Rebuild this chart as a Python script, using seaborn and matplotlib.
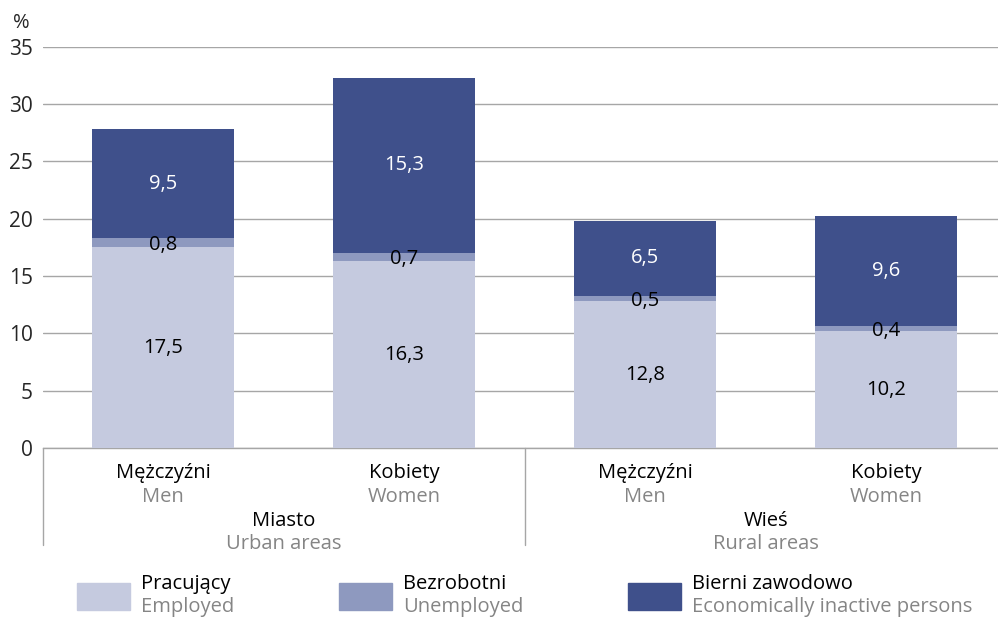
import numpy as np
import pandas as pd
import matplotlib
matplotlib.use("Agg")
import matplotlib.pyplot as plt
import seaborn as sns
from matplotlib.patches import Rectangle
from matplotlib.lines import Line2D

# Data
areas_pl = ["Miasto", "Wieś"]
areas_en = ["Urban areas", "Rural areas"]
sex_pl = ["Mężczyźni", "Kobiety", "Mężczyźni", "Kobiety"]
sex_en = ["Men", "Women", "Men", "Women"]
employed = [17.5, 16.3, 12.8, 10.2]
unemployed = [0.8, 0.7, 0.5, 0.4]
inactive = [9.5, 15.3, 6.5, 9.6]
series_pl = ["Pracujący", "Bezrobotni", "Bierni zawodowo"]
series_en = ["Employed", "Unemployed", "Economically inactive persons"]
colors = ["#c5cadf", "#8e99bf", "#3f508b"]
yticks = [0, 5, 10, 15, 20, 25, 30, 35]

sns.set_style("white")
plt.rcParams["font.family"] = ["Open Sans", "DejaVu Sans"]
FS = 14.5

fig = plt.figure(figsize=(9.98, 6.17), dpi=100)
ax = fig.add_axes([0.0426, 0.274, 0.966, 0.650])

cats = [f"{i}" for i in range(len(employed))]
df = pd.DataFrame({"cat": cats, "emp": employed, "unemp": unemployed, "inact": inactive})
df["b1"] = df["emp"] + df["unemp"]
df["b2"] = df["b1"] + df["inact"]

# stacked bars: draw totals first, then overlay
for col, c in zip(["b2", "b1", "emp"], [colors[2], colors[1], colors[0]]):
    sns.barplot(data=df, x="cat", y=col, color=c, width=0.59, saturation=1,
                linewidth=0, edgecolor="none", ax=ax, zorder=3)

fmt = lambda v: f"{v:.1f}".replace(".", ",")
for i, r in df.iterrows():
    ax.text(i, r["emp"] / 2, fmt(r["emp"]), ha="center", va="center", fontsize=FS, color="black", zorder=5)
    ax.text(i, r["emp"] + r["unemp"] / 2 - 0.2, fmt(r["unemp"]), ha="center", va="center", fontsize=FS, color="black", zorder=5)
    ax.text(i, r["b1"] + r["inact"] / 2, fmt(r["inact"]), ha="center", va="center", fontsize=FS, color="white", zorder=5)

ax.set_xlim(-0.5, 3.5)
ax.set_ylim(0, 35)
ax.set_yticks(yticks)
ax.set_yticklabels([str(t) for t in yticks], fontsize=FS + 0.5)
ax.yaxis.grid(True, color="#a6a6a6", linewidth=1, zorder=0)
ax.set_xticks([])
ax.set_xlabel("")
ax.set_ylabel("")
ax.tick_params(axis="y", length=0, pad=7)
for s in ["top", "right", "left"]:
    ax.spines[s].set_visible(False)
ax.spines["bottom"].set_color("#a6a6a6")
ax.spines["bottom"].set_linewidth(1)
ax.text(-0.022, 1.035, "%", transform=ax.transAxes, ha="center", va="bottom", fontsize=FS)

# category labels
tr = ax.get_xaxis_transform()
for i in range(len(sex_pl)):
    ax.text(i, -0.062, sex_pl[i], transform=tr, ha="center", va="center", fontsize=FS, color="black")
    ax.text(i, -0.122, sex_en[i], transform=tr, ha="center", va="center", fontsize=FS, color="#858585")
for g in range(len(areas_pl)):
    ax.text(2 * g + 0.5, -0.182, areas_pl[g], transform=tr, ha="center", va="center", fontsize=FS, color="black")
    ax.text(2 * g + 0.5, -0.24, areas_en[g], transform=tr, ha="center", va="center", fontsize=FS, color="#858585")
for xs in [-0.5, 1.5, 3.5]:
    ax.add_line(Line2D([xs, xs], [0, -0.243], transform=tr, color="#a6a6a6", linewidth=1, clip_on=False))

# legend
leg_x = [0.077, 0.340, 0.629]
for k in range(3):
    fig.patches.append(Rectangle((leg_x[k], 1 - 610 / 617), 0.053, 27 / 617,
                                 transform=fig.transFigure, color=colors[k]))
    fig.text(leg_x[k] + 0.064, 1 - 584 / 617, series_pl[k], ha="left", va="center", fontsize=FS, color="black")
    fig.text(leg_x[k] + 0.064, 1 - 607 / 617, series_en[k], ha="left", va="center", fontsize=FS, color="#858585")

fig.savefig("out.png", dpi=100)
